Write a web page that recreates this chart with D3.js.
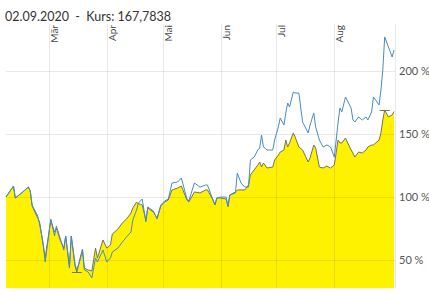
<!DOCTYPE html>
<html>
<head>
<meta charset="utf-8">
<script src="https://cdn.jsdelivr.net/npm/d3@7"></script>
<style>
  body { margin: 0; background: #fff; }
  svg { display: block; }
</style>
</head>
<body>
<div id="container"></div>
<script>
let width = 429;
let height = 294;

const titleText = "02.09.2020  -  Kurs: 167,7838";

const dates = ["2020-02-07","2020-02-11","2020-02-12","2020-02-16","2020-02-19","2020-02-20","2020-02-21","2020-02-24","2020-02-25","2020-02-27","2020-02-28",
  "2020-03-02","2020-03-04","2020-03-05","2020-03-07","2020-03-09","2020-03-10","2020-03-12","2020-03-13","2020-03-15","2020-03-16","2020-03-18","2020-03-19","2020-03-20","2020-03-22","2020-03-24","2020-03-26","2020-03-27","2020-03-30",
  "2020-04-01","2020-04-03","2020-04-04","2020-04-07","2020-04-09","2020-04-12","2020-04-14","2020-04-15","2020-04-17","2020-04-18","2020-04-19","2020-04-20","2020-04-22","2020-04-23","2020-04-26","2020-04-28","2020-04-30",
  "2020-05-02","2020-05-04","2020-05-06","2020-05-09","2020-05-11","2020-05-14","2020-05-15","2020-05-18","2020-05-21","2020-05-24","2020-05-25","2020-05-28","2020-05-29","2020-05-30",
  "2020-06-01","2020-06-04","2020-06-05","2020-06-06","2020-06-09","2020-06-10","2020-06-12","2020-06-14","2020-06-16","2020-06-17","2020-06-19","2020-06-21","2020-06-22","2020-06-23","2020-06-24","2020-06-26","2020-06-29","2020-06-30",
  "2020-07-02","2020-07-03","2020-07-05","2020-07-06","2020-07-07","2020-07-08","2020-07-10","2020-07-11","2020-07-13","2020-07-15","2020-07-18","2020-07-19","2020-07-21","2020-07-22","2020-07-24","2020-07-26","2020-07-28","2020-07-30",
  "2020-08-01","2020-08-03","2020-08-04","2020-08-05","2020-08-07","2020-08-10","2020-08-11","2020-08-12","2020-08-14","2020-08-16","2020-08-18","2020-08-19","2020-08-21","2020-08-22","2020-08-25","2020-08-26","2020-08-27","2020-08-28","2020-08-30",
  "2020-09-01","2020-09-02"];

// yellow area (Kurs, in % of start)
const kursValues = [100,108.7,99.2,104.0,107.9,104.8,92.9,83.3,80.2,61.1,51.6,
  81.7,72.2,75.4,65.9,59.5,69.0,45.2,69.0,45.2,40.5,53.2,57.9,43.6,42.1,41.3,59.5,51.6,65.9,
  59.5,61.9,70.6,74.6,78.6,83.3,87.3,91.3,96.0,94.4,94.4,93.7,81.7,91.3,88.1,83.3,92.9,
  96.0,97.6,105.6,107.1,108.7,97.6,96.0,104.0,103.2,105.6,105.6,97.6,93.7,99.2,
  99.2,98.4,92.9,101.6,104.0,105.6,105.6,105.6,109.5,117.5,121.4,125.4,127.8,123.8,127.0,123.0,123.8,129.4,
  133.3,135.7,137.3,145.2,139.7,142.9,150.8,147.6,139.7,137.3,127.8,131.0,141.3,138.9,123.8,123.0,124.6,123.0,
  125.4,145.2,142.9,142.9,146.8,137.3,134.9,131.7,135.7,134.9,137.3,139.7,141.3,141.3,145.2,150.8,161.1,169.1,163.5,
  165.1,167.8];

// blue comparison line
const vergleichValues = [100,108.7,99.2,104.0,107.9,104.8,93.7,84.9,78.6,62.7,48.4,
  82.5,69.0,77.0,67.5,57.9,69.0,43.6,69.0,46.8,42.1,51.6,58.7,42.1,40.5,35.7,51.6,48.4,57.9,
  48.4,51.6,56.3,59.5,63.5,69.0,72.2,81.7,89.7,95.2,96.8,98.4,80.2,92.1,88.9,82.5,93.7,
  96.8,98.4,111.1,111.9,115.1,98.4,96.8,111.1,107.9,109.5,109.5,97.6,93.7,99.2,
  100,100,92.1,101.6,103.2,119.0,111.1,107.9,107.9,129.4,131.7,137.3,138.9,149.2,139.7,137.3,137.3,145.2,
  155.6,162.7,157.1,166.7,174.6,171.4,183.3,182.5,182.5,159.5,150.8,157.1,166.7,155.6,145.2,139.7,141.3,139.7,
  131.7,158.7,170.6,167.5,179.4,170.6,161.1,159.5,163.5,161.1,163.5,161.1,167.5,179.4,173.0,184.9,200.8,227.0,219.1,
  211.1,216.7];

const yTicks = [50, 100, 150, 200];
const monthLabels = ["Mär", "Apr", "Mai", "Jun", "Jul", "Aug"];
const monthStarts = ["2020-03-01","2020-04-01","2020-05-01","2020-06-01","2020-07-01","2020-08-01"];

const parse = d3.timeParse("%Y-%m-%d");
const data = dates.map((d, i) => ({ date: parse(d), kurs: kursValues[i], vgl: vergleichValues[i] }));

const plotLeft = 6, plotRight = 395, plotTop = 24, plotBottom = 288;

const x = d3.scaleTime()
  .domain([parse("2020-02-07"), parse("2020-09-02")])
  .range([plotLeft, 394]);

const y = d3.scaleLinear()
  .domain([50, 200])
  .range([260, 71]);

const svg = d3.select('#container')
  .append('svg')
  .attr('width', width)
  .attr('height', height)
  .style('font-family', 'Lato, "Open Sans", sans-serif');

svg.append('text')
  .attr('x', 5)
  .attr('y', 21)
  .attr('fill', '#333')
  .attr('font-size', 12.5)
  .style('white-space', 'pre')
  .text(titleText);

// yellow area
const area = d3.area()
  .x(d => x(d.date))
  .y0(plotBottom)
  .y1(d => y(d.kurs));

svg.append('path')
  .datum(data)
  .attr('fill', '#fff200')
  .attr('d', area);

// grid
const grid = svg.append('g')
  .attr('stroke', 'rgba(0,0,0,0.09)')
  .attr('stroke-width', 1)
  .attr('shape-rendering', 'crispEdges');

grid.selectAll('line.h')
  .data(yTicks)
  .join('line')
  .attr('class', 'h')
  .attr('x1', plotLeft)
  .attr('x2', plotRight)
  .attr('y1', d => Math.round(y(d)) + 0.5)
  .attr('y2', d => Math.round(y(d)) + 0.5);

grid.selectAll('line.v')
  .data(monthStarts)
  .join('line')
  .attr('class', 'v')
  .attr('x1', d => Math.round(x(parse(d))) + 0.5)
  .attr('x2', d => Math.round(x(parse(d))) + 0.5)
  .attr('y1', plotTop)
  .attr('y2', plotBottom);

grid.append('line')
  .attr('x1', plotRight + 0.5)
  .attr('x2', plotRight + 0.5)
  .attr('y1', plotTop)
  .attr('y2', plotBottom);

// month labels
svg.append('g')
  .selectAll('text')
  .data(monthStarts)
  .join('text')
  .attr('transform', d => `translate(${x(parse(d)) + 9},${plotTop + 1}) rotate(-90)`)
  .attr('text-anchor', 'end')
  .attr('font-size', 10)
  .attr('fill', '#444')
  .text((d, i) => monthLabels[i]);

// y labels
svg.append('g')
  .selectAll('text')
  .data(yTicks)
  .join('text')
  .attr('x', plotRight + 4)
  .attr('y', d => y(d))
  .attr('dy', '0.35em')
  .attr('font-size', 11)
  .attr('fill', '#555')
  .text(d => d + ' %');

// lines
const kursLine = d3.line()
  .x(d => x(d.date))
  .y(d => y(d.kurs));

const vglLine = d3.line()
  .x(d => x(d.date))
  .y(d => y(d.vgl));

svg.append('path')
  .datum(data)
  .attr('fill', 'none')
  .attr('stroke', '#73735a')
  .attr('stroke-width', 1)
  .attr('d', kursLine);

svg.append('path')
  .datum(data)
  .attr('fill', 'none')
  .attr('stroke', '#4a8ac4')
  .attr('stroke-width', 1)
  .attr('d', vglLine);

// min / max markers of the Kurs series
const minD = data[d3.minIndex(data, d => d.kurs)];
const maxD = data[d3.maxIndex(data, d => d.kurs)];
svg.append('g')
  .attr('stroke', '#73735a')
  .selectAll('line')
  .data([minD, maxD])
  .join('line')
  .attr('x1', d => x(d.date) - 5)
  .attr('x2', d => x(d.date) + 5)
  .attr('y1', d => Math.round(y(d.kurs)) + 0.5)
  .attr('y2', d => Math.round(y(d.kurs)) + 0.5);
</script>
</body>
</html>
